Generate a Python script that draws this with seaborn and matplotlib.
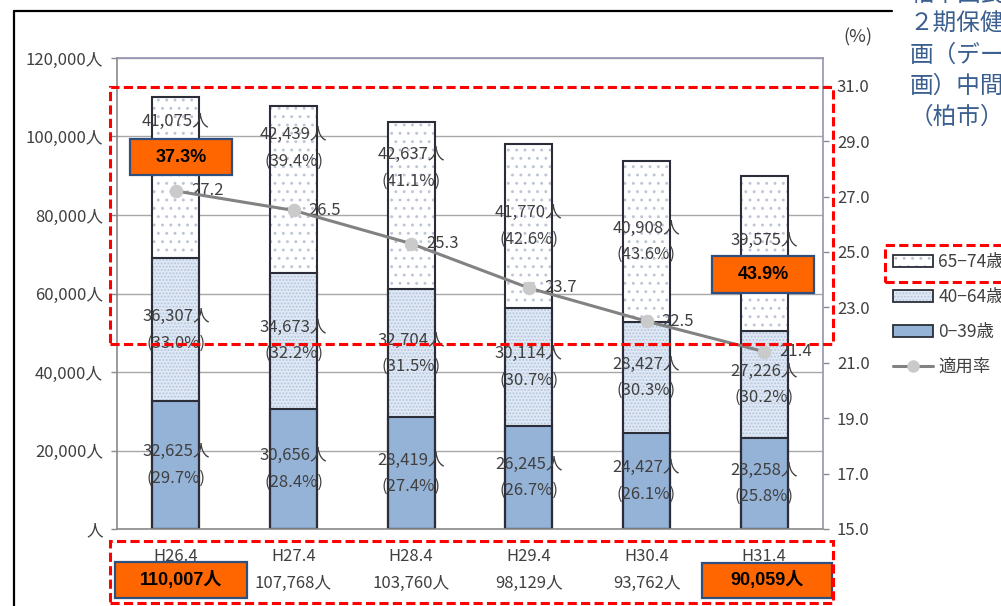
import numpy as np
import pandas as pd
import matplotlib
matplotlib.use("Agg")
import matplotlib.pyplot as plt
from matplotlib.patches import Rectangle, Patch
from matplotlib.lines import Line2D
import seaborn as sns

# ---- data ---------------------------------------------------------------
years = ["H26.4", "H27.4", "H28.4", "H29.4", "H30.4", "H31.4"]
age_0_39 = [32625, 30656, 28419, 26245, 24427, 23258]
age_40_64 = [36307, 34673, 32704, 30114, 28427, 27226]
age_65_74 = [41075, 42439, 42637, 41770, 40908, 39575]
rate = [27.2, 26.5, 25.3, 23.7, 22.5, 21.4]

left_ticks = [0, 20000, 40000, 60000, 80000, 100000, 120000]
right_ticks = [15.0, 17.0, 19.0, 21.0, 23.0, 25.0, 27.0, 29.0, 31.0]
legend_labels = ["65−74歳", "40−64歳", "0−39歳", "適用率"]
side_note = ["柏市国民健康保険第", "２期保健事業実施計", "画（データヘルス計", "画）中間評価報告書", "（柏市）"]

# upward shift (people) of the 65-74 labels that would sit on the rate line
top_label_lift = [11000, 10500, 9500, 0, 0, 0]

# ---- derived table ------------------------------------------------------
df = pd.DataFrame({"year": years, "a": age_0_39, "b": age_40_64, "c": age_65_74})
df["ab"] = df["a"] + df["b"]
df["total"] = df["ab"] + df["c"]
for col in ["a", "b", "c"]:
    df["p_" + col] = (df[col] / df["total"] * 100).round(1)

# ---- styling ------------------------------------------------------------
W, H, DPI = 1001, 606, 100
sns.set_theme(style="white")
plt.rcParams["font.family"] = ["Noto Sans CJK JP", "DejaVu Sans"]
plt.rcParams["hatch.linewidth"] = 0.9

TXT = "#404040"
AXC = "#8a8a8a"
EDGE = "#2b2e38"
C_0_39 = "#95b3d7"
C_40_64 = "#dfe8f4"
H_40_64 = "#b3c5de"
H_65_74 = "#bcc4d6"

fig = plt.figure(figsize=(W / DPI, H / DPI), dpi=DPI)


def fx(x):
    return x / W


def fy(y):
    return 1 - y / H


ax = fig.add_axes([fx(117), fy(529), (823 - 117) / W, (529 - 58) / H])


def fill_layer(col, face, hatch=None, hatch_color=None):
    n0 = len(ax.patches)
    sns.barplot(data=df, x="year", y=col, ax=ax, width=0.4, saturation=1, color=face)
    for p in ax.patches[n0:]:
        p.set_facecolor(face)
        if hatch:
            p.set_edgecolor(hatch_color)
            p.set_hatch(hatch)
        else:
            p.set_edgecolor("none")
        p.set_linewidth(0)


def outline_layer(col):
    n0 = len(ax.patches)
    sns.barplot(data=df, x="year", y=col, ax=ax, width=0.4, saturation=1, color="white")
    for p in ax.patches[n0:]:
        p.set_facecolor("none")
        p.set_edgecolor(EDGE)
        p.set_linewidth(1.5)


# stacked bars drawn as cumulative layers
fill_layer("total", "white", "..", H_65_74)
fill_layer("ab", C_40_64, ".....", H_40_64)
fill_layer("a", C_0_39)
outline_layer("total")
outline_layer("ab")
outline_layer("a")

ax.set_ylim(0, 120000)
ax.set_yticks(left_ticks)
ax.set_yticklabels([f"{v:,}人" if v else "人" for v in left_ticks])
ax.set_xlabel("")
ax.set_ylabel("")
ax.set_axisbelow(True)
ax.yaxis.grid(True, color="#a8a8a8", linewidth=1.0)
ax.xaxis.grid(False)

ax.set_xticks(np.arange(len(years)))
ax.set_xticklabels([f"{y}\n{t:,}人" for y, t in zip(years, df["total"])],
                   linespacing=1.7)
ax.set_xticks(np.arange(len(years) + 1) - 0.5, minor=True)
ax.tick_params(axis="x", which="major", length=0, pad=14, labelsize=12, labelcolor=TXT)
ax.tick_params(axis="x", which="minor", length=4, width=1, color=AXC, direction="out")
ax.tick_params(axis="y", length=4, width=1, color=AXC, direction="out", pad=6,
               labelsize=12, labelcolor=TXT)
for s in ["top", "right"]:
    ax.spines[s].set_visible(False)
for s in ["left", "bottom"]:
    ax.spines[s].set_color(AXC)
    ax.spines[s].set_linewidth(1.2)

# segment labels
for i in range(len(years)):
    centers = [
        (df["a"][i] / 2, df["a"][i], df["p_a"][i]),
        (df["a"][i] + df["b"][i] / 2, df["b"][i], df["p_b"][i]),
        (df["ab"][i] + df["c"][i] / 2 + top_label_lift[i], df["c"][i], df["p_c"][i]),
    ]
    for yc, val, pct in centers:
        ax.annotate(f"{val:,}人", (i, yc), xytext=(0, 9.5), textcoords="offset points",
                    ha="center", va="center", fontsize=12, color=TXT, zorder=6)
        ax.annotate(f"({pct:.1f}%)", (i, yc), xytext=(0, -9.5), textcoords="offset points",
                    ha="center", va="center", fontsize=12, color=TXT, zorder=6)

# rate line on the secondary axis
ax2 = ax.twinx()
sns.lineplot(x=np.arange(len(years)), y=rate, ax=ax2, color="#828282", linewidth=2.2,
             marker="o", markersize=9, markerfacecolor="#cacaca",
             markeredgecolor="#cacaca", zorder=5)
for i, r in enumerate(rate):
    ax2.annotate(f"{r:.1f}", (i, r), xytext=(11, 0), textcoords="offset points",
                 ha="left", va="center", fontsize=12, color=TXT)
ax2.set_ylim(15, 32)
ax2.set_yticks(right_ticks)
ax2.set_yticklabels([f"{v:.1f}" for v in right_ticks])
ax2.set_ylabel("")
ax2.tick_params(axis="y", length=4, width=1, color=AXC, direction="out", pad=6,
                labelsize=12, labelcolor=TXT)
ax2.spines["left"].set_visible(False)
ax2.spines["bottom"].set_visible(False)
for s in ["top", "right"]:
    ax2.spines[s].set_color("#9494b4")
    ax2.spines[s].set_linewidth(1.2)
ax.set_xlim(-0.5, len(years) - 0.5)

fig.text(fx(858), fy(37), "(%)", fontsize=13, color=TXT, ha="center", va="center")

# legend
handles = [
    (Patch(facecolor="white", edgecolor=H_65_74, hatch="..", linewidth=0),
     Patch(facecolor="none", edgecolor=EDGE, linewidth=1.3)),
    (Patch(facecolor=C_40_64, edgecolor=H_40_64, hatch=".....", linewidth=0),
     Patch(facecolor="none", edgecolor=EDGE, linewidth=1.3)),
    Patch(facecolor=C_0_39, edgecolor=EDGE, linewidth=1.3),
    Line2D([], [], color="#828282", linewidth=2.2, marker="o", markersize=8,
           markerfacecolor="#cacaca", markeredgecolor="#cacaca"),
]
fig.legend(handles, legend_labels, loc="upper left", bbox_to_anchor=(fx(893), fy(253)),
           frameon=False, fontsize=12.5, handlelength=2.3, handleheight=0.65,
           labelspacing=0.98, handletextpad=0.3, borderaxespad=0, borderpad=0,
           labelcolor=TXT)

# outer frame
fig.add_artist(Line2D([fx(14), fx(892)], [fy(11), fy(11)], color="black", linewidth=1.6))
fig.add_artist(Line2D([fx(14), fx(14)], [fy(11), fy(606)], color="black", linewidth=1.6))

# note at the top right
for k, line in enumerate(side_note):
    fig.text(fx(910), fy(-6 + 30.7 * k), line, fontsize=17, color="#3a5f8f",
             ha="left", va="center")


# highlight boxes
def orange_box(x0, y0, x1, y1, text):
    fig.add_artist(Rectangle((fx(x0), fy(y1)), (x1 - x0) / W, (y1 - y0) / H,
                             transform=fig.transFigure, facecolor="#ff6600",
                             edgecolor="#2f4f7f", linewidth=1.6, zorder=8))
    fig.text(fx((x0 + x1) / 2), fy((y0 + y1) / 2), text, fontsize=13, fontweight="bold",
             color="black", ha="center", va="center", zorder=9,
             family=["Liberation Sans", "Noto Sans CJK JP"])


def dashed_box(x0, y0, x1, y1):
    fig.add_artist(Rectangle((fx(x0), fy(y1)), (x1 - x0) / W, (y1 - y0) / H,
                             transform=fig.transFigure, facecolor="none",
                             edgecolor="#ff0000", linewidth=2.2,
                             linestyle=(0, (3, 1.4)), zorder=10))


orange_box(130, 139, 232, 175, f"{df['p_c'].iloc[0]:.1f}%")
orange_box(712, 256, 814, 293, f"{df['p_c'].iloc[-1]:.1f}%")
orange_box(115, 562, 247, 598, f"{df['total'].iloc[0]:,}人")
orange_box(702, 563, 832, 598, f"{df['total'].iloc[-1]:,}人")

dashed_box(110, 87, 833, 344)
dashed_box(110, 541, 833, 603)
dashed_box(885, 245, 1012, 282)

fig.savefig("out.png", dpi=DPI)
